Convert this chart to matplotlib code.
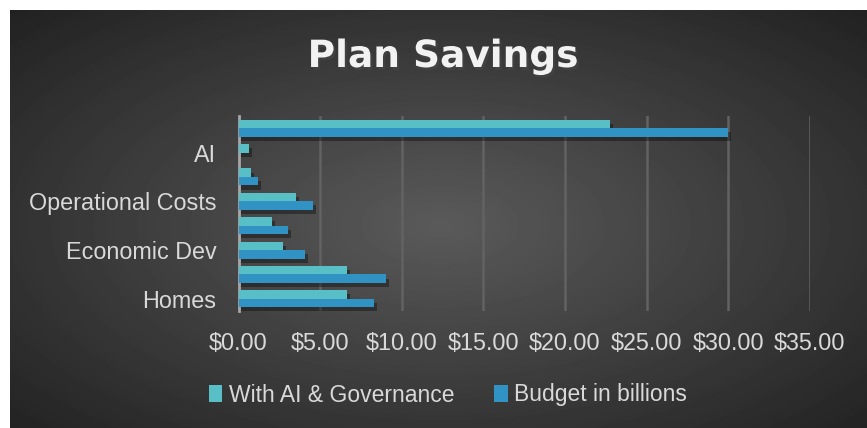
import numpy as np
import matplotlib
matplotlib.use("Agg")
import matplotlib.pyplot as plt
import matplotlib.patheffects as pe
from matplotlib.patches import Patch
from matplotlib.ticker import FuncFormatter

# categories bottom -> top; every second label is hidden in the source chart
categories = ["Homes", "", "Economic Dev", "", "Operational Costs", "", "AI", ""]
with_ai = [6.65, 6.65, 2.73, 2.05, 3.52, 0.77, 0.64, 22.75]
budget = [8.30, 9.04, 4.07, 3.03, 4.56, 1.19, 0.0, 30.0]

W, H = 867, 428
fig = plt.figure(figsize=(W / 100, H / 100), dpi=100, facecolor="white")

# radial gradient background panel
bg = fig.add_axes([10 / W, 0, 1 - 10 / W, 1 - 10 / H])
bg.set_axis_off()
yy, xx = np.mgrid[0:418, 0:857]
r = np.sqrt(((xx - 430) / 430) ** 2 + ((yy - 215) / 215) ** 2)
shade = 0x5a - (0x5a - 0x20) * np.clip(r, 0, 1.45) / 1.45
bg.imshow(shade, cmap="gray", vmin=0, vmax=255, aspect="auto",
          interpolation="bilinear")

ax = fig.add_axes([238.5 / W, 1 - 311 / H, 571.2 / W, 195 / H])
ax.set_facecolor("none")

y = np.arange(len(categories))
h = 0.35
shadow = [pe.SimplePatchShadow(offset=(2, -3), shadow_rgbFace="black", alpha=0.35),
          pe.Normal()]
ax.barh(y + h / 2, with_ai, height=h, color="#58bfc7", zorder=3,
        path_effects=shadow)
ax.barh(y - h / 2, budget, height=h, color="#3093c3", zorder=3,
        path_effects=shadow)

ax.set_xlim(0, 35)
ax.set_ylim(-0.5, len(categories) - 0.5)
ax.set_xticks(np.arange(0, 36, 5))
ax.xaxis.set_major_formatter(FuncFormatter(lambda v, p: f"${v:.2f}"))
ax.set_yticks(y)
ax.set_yticklabels(categories)
ax.grid(axis="x", color="#626262", linewidth=1.8, zorder=0)
ax.grid(axis="y", visible=False)
for s in ["top", "right", "bottom"]:
    ax.spines[s].set_visible(False)
ax.spines["left"].set_color("#a6a6a6")
ax.spines["left"].set_linewidth(2)
ax.tick_params(length=0, labelsize=16.8, labelcolor="#d9d9d9")
ax.tick_params(axis="x", pad=15)
ax.tick_params(axis="y", pad=16)
for lbl in ax.get_xticklabels() + ax.get_yticklabels():
    lbl.set_fontfamily("Liberation Sans")

fig.text(443 / W, 1 - 57 / H, "Plan Savings", ha="center", va="center",
         fontsize=27, fontweight="bold", family="DejaVu Sans", color="#f2f2f2",
         path_effects=[pe.withSimplePatchShadow(offset=(1.5, -2), alpha=0.5)])

handles = [Patch(facecolor="#58bfc7"), Patch(facecolor="#3093c3")]
fig.legend(handles, ["With AI & Governance", "Budget in billions"],
           loc="center", bbox_to_anchor=(448 / W, 1 - 395 / H), ncol=2,
           frameon=False, handlelength=0.6, handleheight=0.7,
           handletextpad=0.3, columnspacing=1.7,
           prop={"family": "Liberation Sans", "size": 16.5},
           labelcolor="#d9d9d9")

fig.savefig("out.png", dpi=100, facecolor="white")
